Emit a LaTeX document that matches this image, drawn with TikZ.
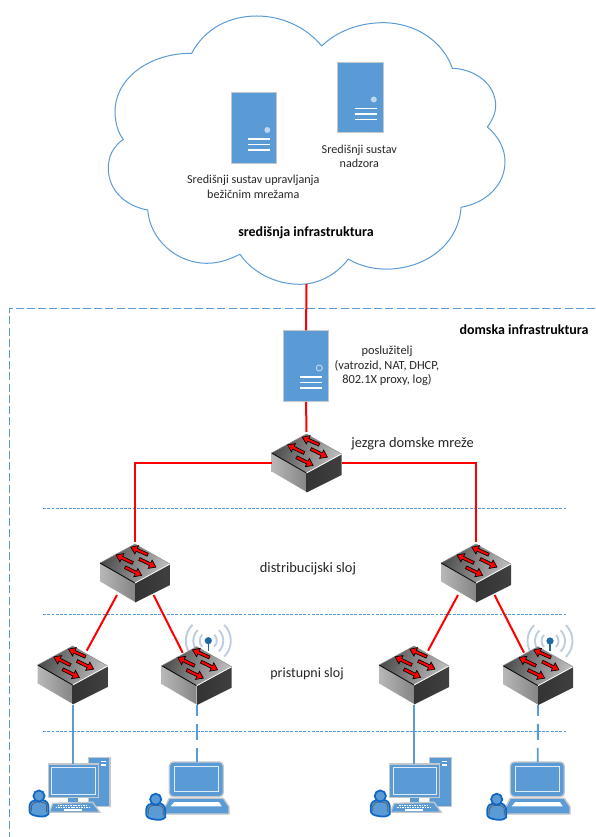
\documentclass[tikz,border=0pt]{standalone}
\usepackage{fontspec}
\setmainfont{Carlito}
\definecolor{bl}{HTML}{5B9BD5}
\definecolor{edgeg}{HTML}{C4C8CC}
\definecolor{wifig}{HTML}{BCCDDF}
\definecolor{dot}{HTML}{1F6AA5}
\definecolor{pers}{HTML}{0F66C4}
\definecolor{txt}{HTML}{262626}
\tikzset{
  x=0.75pt,y=-0.75pt,
  redlink/.style={draw=red,line width=1.5pt},
  bluelink/.style={draw=bl,line width=1.4pt},
  bluedash/.style={draw=bl,line width=1.4pt,dash pattern=on 12pt off 6pt,dash phase=4pt},
  layerline/.style={draw=bl,line width=0.55pt,dash pattern=on 2.2pt off 1pt},
  framestyle/.style={draw=bl,line width=0.6pt,dash pattern=on 6pt off 2.4pt},
  cloudline/.style={draw=bl,line width=0.75pt},
  lab/.style={font=\fontsize{9.1}{10.8}\selectfont,text=txt,align=center,inner sep=0pt},
  labb/.style={font=\fontsize{10.5}{12}\selectfont\bfseries,text=black,align=center,inner sep=0pt},
  labl/.style={font=\fontsize{10.8}{12}\selectfont,text=txt,align=center,inner sep=0pt},
  swarrow/.style={fill=red,draw=black,line width=0.5pt,line join=miter},
  whitebar/.style={draw=white,line width=0.8pt},
  wave/.style={draw=wifig,line width=1.4pt},
  icon/.style={fill=bl,draw=edgeg,line width=1pt},
  inner/.style={draw=white!80!bl,line width=0.7pt},
  servbox/.style={rectangle,fill=bl,draw=edgeg,line width=0.8pt,minimum width=34.2pt,minimum height=52.8pt,inner sep=0pt,anchor=north west},
  server/.pic={
    \node[servbox] (-box) at (0,0) {};
    \foreach \yy in {46.7,52.2,57.7}{\draw[whitebar] (17.3,\yy) -- (39.3,\yy);}
  },
  switchicon/.pic={
    \coordinate (-top) at (0,-2);
    \coordinate (-bot) at (0,58.5);
    \coordinate (-l) at (-35,28.5);
    \coordinate (-r) at (35,28.5);
    \coordinate (-bl) at (-18,51);
    \coordinate (-br) at (18.5,51);
    \coordinate (-tl) at (-14,6);
    \coordinate (-tr) at (14,4.7);
    \shade[left color=black!28,middle color=black!8,right color=black!48,shading angle=90] (-35,19) -- (0,39) -- (0,58.5) -- (-35,38) -- cycle;
    \shade[left color=black!80,middle color=black!50,right color=black!75] (0,39) -- (35,20) -- (35,41) -- (0,58.5) -- cycle;
    \shade[left color=black!70,right color=black!25,shading angle=70] (0,0) -- (35,20) -- (0,39) -- (-35,19) -- cycle;
    \draw[black,line width=0.6pt] (-35,19) -- (0,39);
    \draw[white,line width=0.6pt] (0,39) -- (35,20);
    \draw[black!45,line width=0.4pt] (-35,19) -- (0,0) -- (35,20);
    \draw[white,line width=0.6pt] (-35,38) -- (0,58.5);
    \begin{scope}[shift={(12.7,10.7)},rotate=156]
      \draw[swarrow] (0,-1.5) -- (12,-1.5) -- (12,-4.6) -- (18.5,0) -- (12,4.6) -- (12,1.5) -- (0,1.5) -- cycle;
    \end{scope}
    \begin{scope}[shift={(-2.3,19)},rotate=154]
      \draw[swarrow] (0,-1.5) -- (12,-1.5) -- (12,-4.6) -- (18.5,0) -- (12,4.6) -- (12,1.5) -- (0,1.5) -- cycle;
    \end{scope}
    \begin{scope}[shift={(4.3,15)},rotate=-26]
      \draw[swarrow] (0,-1.5) -- (12,-1.5) -- (12,-4.6) -- (18.5,0) -- (12,4.6) -- (12,1.5) -- (0,1.5) -- cycle;
    \end{scope}
    \begin{scope}[shift={(-10,23.3)},rotate=-26]
      \draw[swarrow] (0,-1.5) -- (12,-1.5) -- (12,-4.6) -- (18.5,0) -- (12,4.6) -- (12,1.5) -- (0,1.5) -- cycle;
    \end{scope}
  },
  wifi/.pic={
    \foreach \rr in {8.5,15,22.5}{
      \draw[wave] (0,0)+(135:\rr) arc[start angle=135,end angle=225,radius=\rr];
      \draw[wave] (0,0)+(-45:\rr) arc[start angle=-45,end angle=45,radius=\rr];
    }
    \draw[dot,line width=1.2pt] (0,0) -- (0,10);
    \fill[dot] (0,0) circle[radius=3.6];
  },
  person/.pic={
    \draw[pers,fill=bl,line width=1.3pt] (-9.5,10) .. controls (-9,6) and (-6,4) .. (-3,4) -- (3,4) .. controls (7,4) and (9.5,7) .. (9.5,11) -- (9.5,18) .. controls (7,21) and (2,21) .. (-2,20) .. controls (-6,19.5) and (-9.5,18) .. (-9.5,15) -- cycle;
    \draw[black!65,line width=0.5pt] (-7.5,15) -- (-7.5,10) .. controls (-7,7) and (-4,6) .. (0,6) .. controls (4,6) and (7.5,7) .. (7.5,10) -- (7.5,16);
    \draw[pers,fill=bl,line width=1.3pt] (0,0) circle[radius=5.6];
  },
  desktop/.pic={
    \coordinate (-top) at (0,0);
    \draw[icon] (15.6,-6.7) rectangle (37.3,42.7);
    \draw[whitebar] (28.3,-2.3) -- (33.3,-2.3);
    \draw[whitebar] (28.3,1) -- (33.3,1);
    \fill[bl] (-4.4,33.3) rectangle (5,38.3);
    \draw[icon] (-24.4,0) rectangle (25.6,33.3);
    \draw[inner] (-21,3.3) rectangle (22.3,30.3);
    \draw[icon] (-20,39.3) -- (20,38.3) -- (27.3,48.3) -- (-23.4,48.3) -- cycle;
    \draw[white,line width=1pt,dash pattern=on 1.2pt off 0.7pt] (-15,41.2) -- (15,41.2);
    \draw[white,line width=1pt,dash pattern=on 1.2pt off 0.7pt] (-17,43.5) -- (17,43.5);
    \draw[white,line width=1.2pt] (-8.7,46) -- (9,46);
    \pic at (-33.7,32) {person};
  },
  laptop/.pic={
    \coordinate (-top) at (0,0);
    \draw[icon,rounded corners=3pt] (-27.4,34.7) -- (-27.4,0) -- (26.6,0) -- (26.6,34.7) -- cycle;
    \draw[inner] (-22.4,4.7) rectangle (22,29);
    \draw[icon] (-27.4,36.3) -- (26.6,36.3) -- (32.3,44.7) -- (32.3,52) -- (-31.7,52) -- (-31.7,44.7) -- cycle;
    \fill[white] (-22.4,40) -- (22.3,40) -- (25,44.3) -- (-26,44.3) -- cycle;
    \pic at (-41,37.3) {person};
  }
}
\begin{document}
\begin{tikzpicture}
\useasboundingbox (0,0) rectangle (595,837);
% cloud
\draw[cloudline] (191.7,53.3)
  .. controls (205,28) and (230,16) .. (256.7,16)
  .. controls (283,16) and (307,28) .. (321.7,46)
  .. controls (337,31) and (360,22.7) .. (383,22.7)
  .. controls (415,22.7) and (443,41) .. (452.3,68.3)
  .. controls (475,69) and (495.7,84) .. (495.7,105.7)
  .. controls (495.7,113) and (492,121) .. (487.3,127)
  .. controls (498,136) and (505,148) .. (505,161.7)
  .. controls (505,185) and (486,203) .. (461,207.3)
  .. controls (459,240) and (433,263) .. (400,268)
  .. controls (382,271) and (363,268) .. (348.3,259)
  .. controls (338,273) and (320,284.3) .. (300,284.3)
  .. controls (275,284.3) and (252,272) .. (240,254.3)
  .. controls (230,259) and (220,263.3) .. (206.7,263.3)
  .. controls (177,263.3) and (150,240) .. (147.7,210)
  .. controls (125,206) and (108.3,190) .. (108.3,168.3)
  .. controls (108.3,156) and (113,147) .. (123.3,139.3)
  .. controls (118,133) and (115,122) .. (115,111.7)
  .. controls (115,78) and (150,53) .. (191.7,53.3) -- cycle;
% frame and layer lines
\coordinate (fa) at (595,308.3);
\coordinate (fb) at (9.6,308.3);
\coordinate (fc) at (9.6,837);
\draw[framestyle] (fa) -- (fb) -- (fc);
\foreach \nm/\yy in {la/508.3,lb/614.3,lc/731}{
  \coordinate (\nm1) at (43,\yy);
  \coordinate (\nm2) at (567.5,\yy);
  \draw[layerline] (\nm1) -- (\nm2);
}
% servers
\pic (srva) at (230.7,92.3) {server};
\fill[white!60!bl] (267.3,130) circle[radius=3];
\pic (srvb) at (337.2,61.8) {server};
\fill[white!60!bl] (373.8,99.5) circle[radius=3];
\pic (srvc) at (282.7,330.3) {server};
\draw[white!60!bl,line width=0.7pt] (319.3,368) circle[radius=3];
% wifi
\pic at (208.3,640.7) {wifi};
\pic at (550,641) {wifi};
% switches
\pic (core) at (306.5,434) {switchicon};
\pic (dl) at (135,544) {switchicon};
\pic (dr) at (476,544) {switchicon};
\pic (a1) at (72.7,646) {switchicon};
\pic (a2) at (196.7,646.7) {switchicon};
\pic (a3) at (414,646) {switchicon};
\pic (a4) at (538,646.7) {switchicon};
% end devices
\pic (pc1) at (72.7,764) {desktop};
\pic (lt1) at (196.7,762) {laptop};
\pic (pc2) at (414,764) {desktop};
\pic (lt2) at (537.7,762) {laptop};
% connectors
\coordinate (cloudb) at (306.5,284);
\draw[redlink] (cloudb) -- (srvc-box.north);
\draw[redlink] (srvc-box.south) -- (core-top);
\draw[redlink] (core-l) -- (core-l -| dl-top) -- (dl-top);
\draw[redlink] (core-r) -- (core-r -| dr-top) -- (dr-top);
\draw[redlink] (dl-bl) -- (a1-tr);
\draw[redlink] (dl-br) -- (a2-tl);
\draw[redlink] (dr-bl) -- (a3-tr);
\draw[redlink] (dr-br) -- (a4-tl);
\draw[bluelink] (a1-bot) -- (pc1-top);
\draw[bluelink] (a3-bot) -- (pc2-top);
\draw[bluedash] (a2-bot) -- (lt1-top);
\draw[bluedash] (a4-bot) -- (lt2-top);
% labels
\node[lab] (t1) at (253.3,187) {Središnji sustav upravljanja\\bežičnim mrežama};
\node[lab] (t2) at (359.3,156.5) {Središnji sustav\\nadzora};
\node[labb] (t3) at (306,232.5) {središnja infrastruktura};
\node[labb] (t4) at (524,330) {domska infrastruktura};
\node[lab,font=\fontsize{9.3}{10.9}\selectfont] (t5) at (387,366) {poslužitelj\\(vatrozid, NAT, DHCP,\\802.1X proxy, log)};
\node[labl] (t6) at (412.5,444) {jezgra domske mreže};
\node[lab,font=\fontsize{10.8}{12}\selectfont] (t7) at (308,569) {distribucijski sloj};
\node[lab,font=\fontsize{10.5}{12}\selectfont] (t8) at (307,674) {pristupni sloj};
\end{tikzpicture}
\end{document}
